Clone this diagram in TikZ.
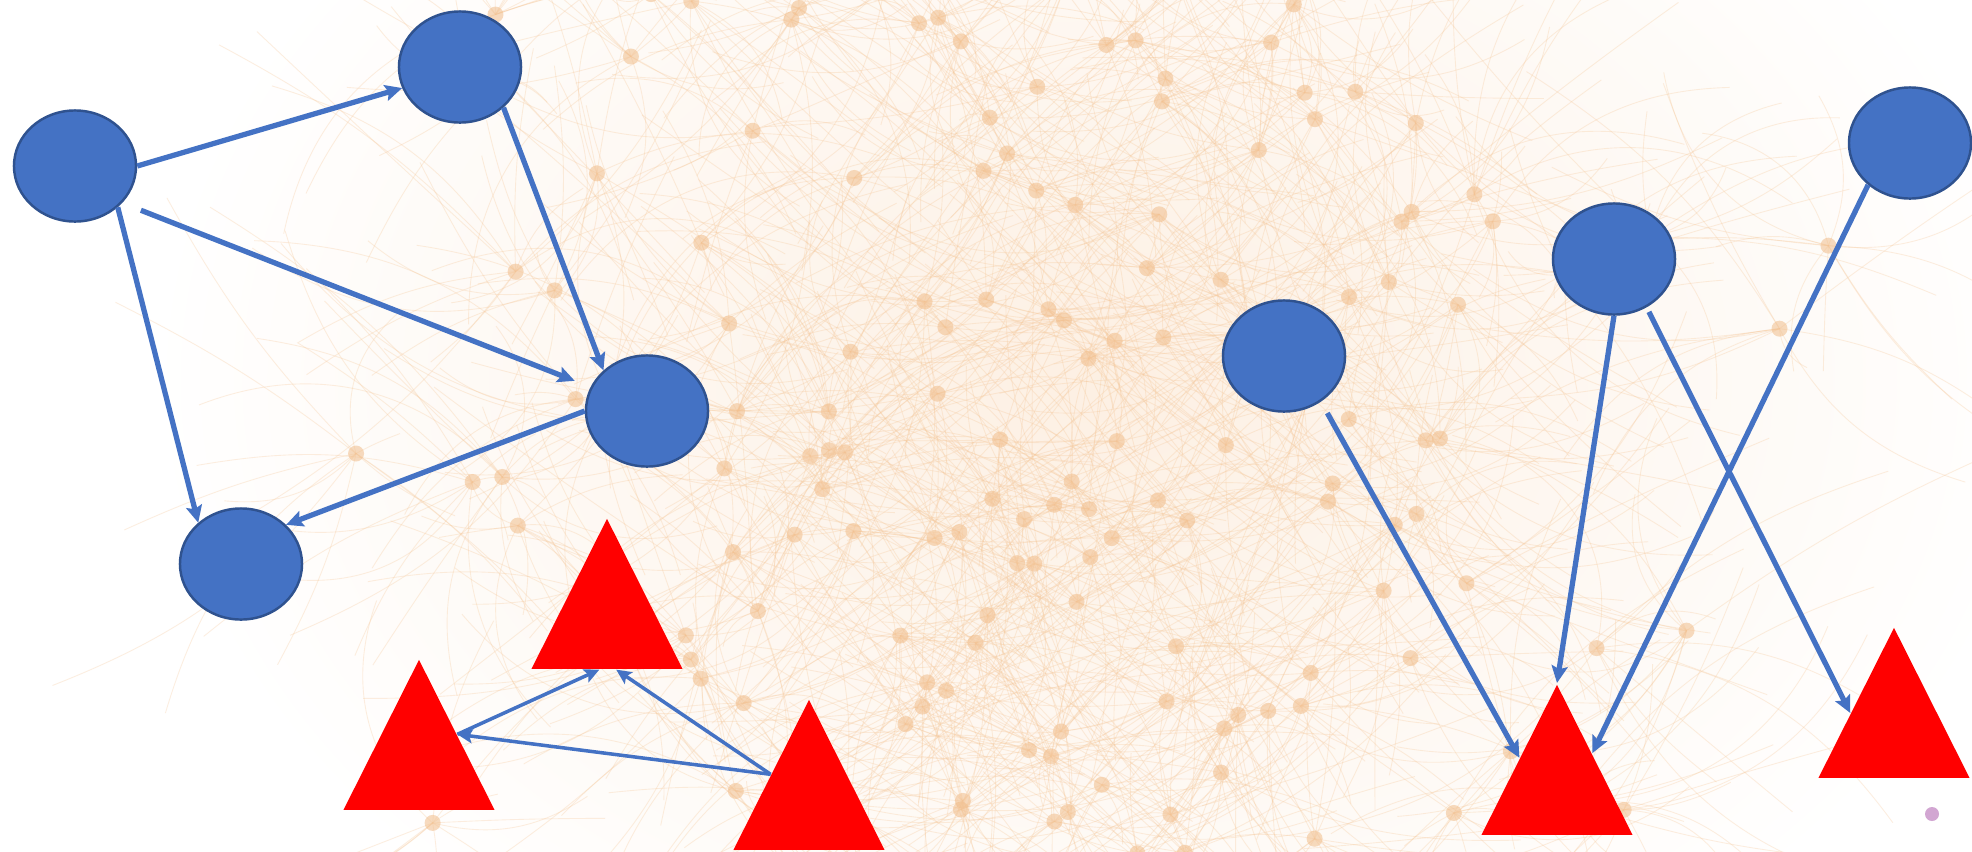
\documentclass[tikz,border=0pt]{standalone}
\usetikzlibrary{positioning,calc,arrows.meta,shapes.geometric}
\definecolor{nodeblue}{HTML}{4472C4}
\definecolor{rimblue}{HTML}{2F528F}
\definecolor{peach}{HTML}{F6C89A}
\definecolor{hubdot}{HTML}{F1BE8C}

\begin{document}
\begin{tikzpicture}[x=0.01cm,y=-0.01cm,
   ball/.style={ellipse,fill=nodeblue,draw=rimblue,line width=0.7pt,
      minimum width=1.22cm,minimum height=1.11cm,inner sep=0pt},
   tri/.style={isosceles triangle,isosceles triangle stretches,
      shape border rotate=90,fill=red,minimum width=1.51cm,
      minimum height=1.5cm,inner sep=0pt,anchor=apex},
   link/.style={draw=nodeblue,line width=1.5pt,
      -{Stealth[length=0.17cm,width=0.16cm,inset=0.03cm]}},
   thinlink/.style={link,line width=1pt,
      -{Stealth[length=0.15cm,width=0.14cm,inset=0.03cm]}},
   web/.style={peach,line width=0.25pt,opacity=0.3}]

   \useasboundingbox (0,0) rectangle (1972,851);

   % faint network behind everything
   \begin{scope}
      \clip (0,0) rectangle (1972,851);
      \fill[white] (0,0) rectangle (1972,851);
      \shade[inner color=peach!28,outer color=white] (1100,380) ellipse (9.5cm and 7cm);
      \pgfmathsetseed{4}
      \foreach \k in {1,...,150}{
         \pgfmathsetmacro{\hx}{1060+560*(rnd+rnd+rnd-1.5)}
         \pgfmathsetmacro{\hy}{-20+890*rnd}
         \foreach \m in {1,...,12}{
            \pgfmathsetmacro{\bend}{(rnd-0.5)*70}
            \draw[web] (\hx,\hy) to[bend left=\bend] ++({(rnd-0.5)*650},{(rnd-0.5)*550});
         }
         \fill[hubdot,opacity=0.55] (\hx,\hy) circle[radius=0.08cm];
      }
      \fill[violet!35] (1932,814) circle[radius=0.07cm];
   \end{scope}

   % circles
   \node[ball] (c1) at (75,166) {};
   \node[ball] (c2) at (460,67) {};
   \node[ball] (c3) at (647,411) {};
   \node[ball] (c4) at (241,564) {};
   \node[ball] (c5) at (1284,356) {};
   \node[ball] (c6) at (1614,259) {};
   \node[ball] (c7) at (1910,143) {};

   % triangles
   \node[tri] (t1) at (607,517) {};
   \node[tri] (t2) at (419,658) {};
   \node[tri] (t3) at (809,698) {};
   \node[tri] (t4) at (1557,683) {};
   \node[tri] (t5) at (1894,626) {};

   % left group
   \draw[link] (c1.east) -- (c2.200);
   \draw[link] (c2.-43) -- (c3.137);
   \draw[link,shorten <=0.2cm,shorten >=0.17cm] (c1.-38) -- (c3.157);
   \draw[link] (c1.-44) -- (c4.136);
   \draw[link] (c3.west) -- (c4.41);

   \draw[thinlink] ($(t3.apex)!.5!(t3.left corner)$) -- ($(t1.left corner)!.56!(t1.right corner)$);
   \draw[thinlink] ($(t3.apex)!.5!(t3.left corner)$) -- ($(t2.apex)!.5!(t2.right corner)$);
   \draw[thinlink] ($(t2.apex)!.5!(t2.right corner)$) -- ($(t1.left corner)!.45!(t1.right corner)$);

   % right group
   \draw[link,shorten <=0.13cm] (c5.-51) -- ($(t4.apex)!.49!(t4.left corner)$);
   \draw[link] (c6.south) -- (t4.apex);
   \draw[link] (c7.225) -- ($(t4.apex)!.46!(t4.right corner)$);
   \draw[link,shorten <=0.05cm] (c6.-56) -- ($(t5.apex)!.57!(t5.left corner)$);
\end{tikzpicture}
\end{document}
